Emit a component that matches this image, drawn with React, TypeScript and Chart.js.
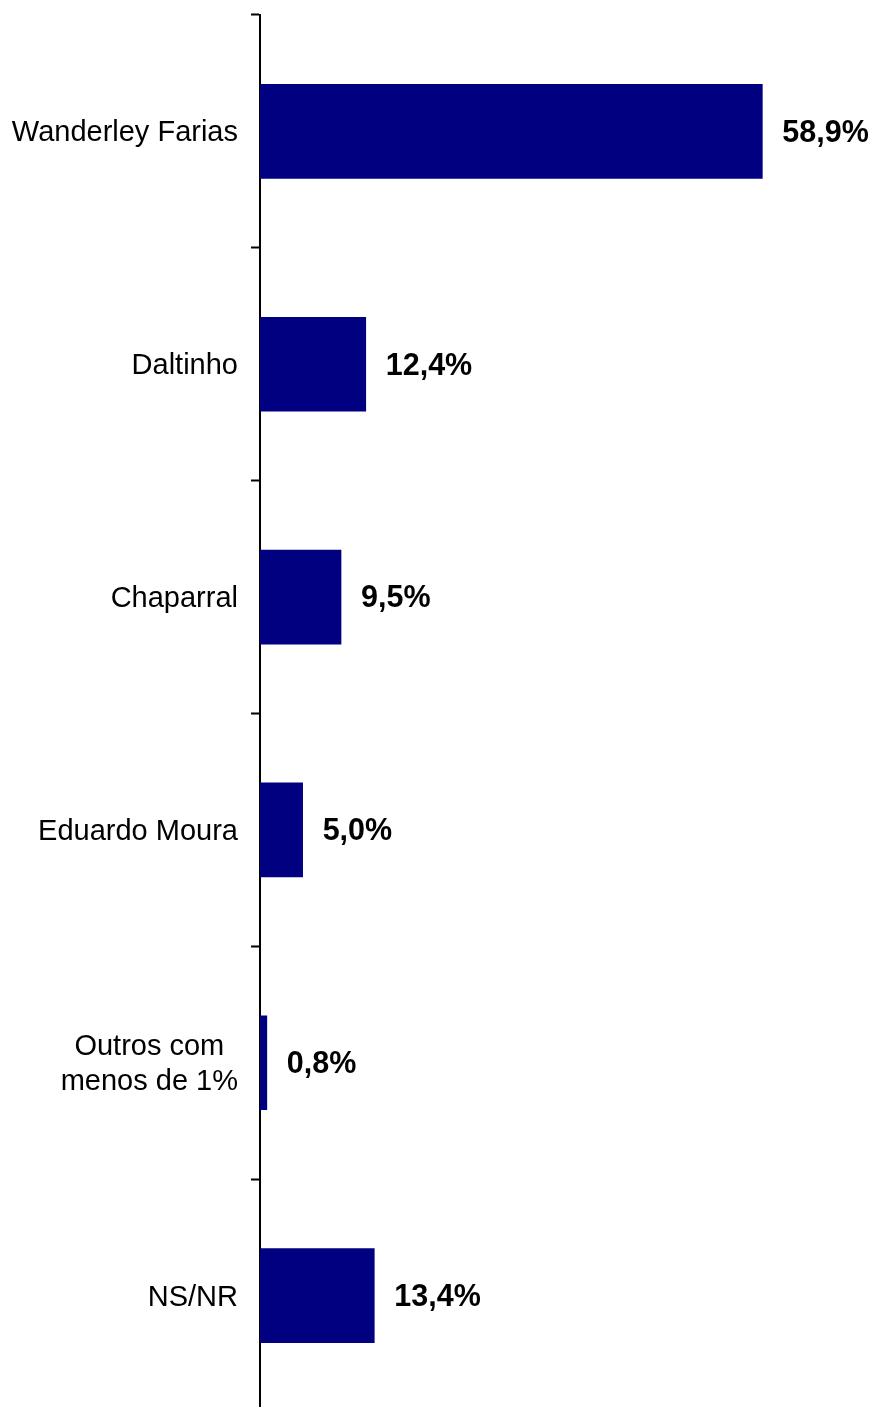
import React, { useEffect, useRef } from "react";
import { Chart, registerables } from "chart.js";

Chart.register(...registerables);

const categories: (string | string[])[] = [
  "Wanderley Farias",
  "Daltinho",
  "Chaparral",
  "Eduardo Moura",
  ["Outros com", "menos de 1%"],
  "NS/NR",
];
const values: number[] = [58.9, 12.4, 9.5, 5.0, 0.8, 13.4];
const valueLabels: string[] = ["58,9%", "12,4%", "9,5%", "5,0%", "0,8%", "13,4%"];

const FONT = "'Liberation Sans', Arial, sans-serif";

const labelsPlugin = {
  id: "customLabels",
  afterDatasetsDraw(chart: any) {
    const ctx = chart.ctx;
    const meta = chart.getDatasetMeta(0);
    const yScale = chart.scales.y;
    const area = chart.chartArea;
    ctx.save();
    // value labels
    ctx.font = `bold 30.5px ${FONT}`;
    ctx.fillStyle = "#000000";
    ctx.textAlign = "left";
    ctx.textBaseline = "middle";
    meta.data.forEach((bar: any, i: number) => {
      ctx.fillText(valueLabels[i], bar.x + 20, bar.y + 2);
    });
    // category labels
    ctx.font = `29px ${FONT}`;
    const rightEdge = area.left - 22;
    const lineH = 35;
    categories.forEach((cat, i) => {
      const yc = yScale.getPixelForValue(i);
      const lines = Array.isArray(cat) ? cat : [cat];
      const maxW = Math.max(...lines.map((l) => ctx.measureText(l).width));
      const cx = rightEdge - maxW / 2;
      ctx.textAlign = "center";
      lines.forEach((l, j) => {
        const y = yc + (j - (lines.length - 1) / 2) * lineH;
        ctx.fillText(l, cx, y + 2);
      });
    });
    ctx.restore();
  },
};

export default function App() {
  const ref = useRef<HTMLCanvasElement | null>(null);
  useEffect(() => {
    if (!ref.current) return;
    const chart = new Chart(ref.current, {
      type: "bar",
      data: {
        labels: categories as any,
        datasets: [
          {
            data: values,
            backgroundColor: "#000080",
            borderWidth: 0,
            barThickness: 94,
          },
        ],
      },
      options: {
        indexAxis: "y",
        animation: false,
        responsive: false,
        maintainAspectRatio: false,
        layout: { padding: { left: 0, right: 20, top: 15, bottom: 8 } },
        plugins: {
          legend: { display: false },
          tooltip: { enabled: false },
          title: { display: false },
        },
        scales: {
          x: {
            min: 0,
            max: 70,
            display: false,
          },
          y: {
            offset: true,
            grid: {
              display: true,
              offset: true,
              drawOnChartArea: false,
              drawTicks: true,
              tickLength: 9,
              tickWidth: 2,
              color: "#000000",
            },
            border: { display: true, color: "#000000", width: 2 },
            ticks: { color: "rgba(0,0,0,0)", font: { size: 10 }, padding: 0 },
            afterFit: (scale: any) => {
              scale.width = 260;
            },
          },
        },
      },
      plugins: [labelsPlugin],
    });
    return () => chart.destroy();
  }, []);
  return (
    <div
      style={{
        position: "fixed",
        top: 0,
        left: 0,
        width: 877,
        height: 1420,
        overflow: "hidden",
        background: "#ffffff",
      }}
    >
      <canvas ref={ref} width={877} height={1420} style={{ display: "block" }} />
    </div>
  );
}
